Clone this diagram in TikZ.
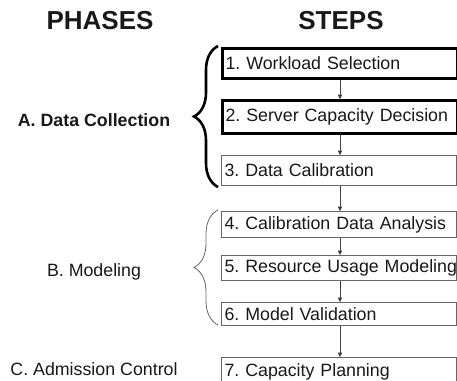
\documentclass[tikz,border=0pt]{standalone}
\usepackage{fontspec}
\setmainfont{Liberation Sans}
\usetikzlibrary{arrows.meta,decorations.pathreplacing}
\begin{document}
\frenchspacing
\begin{tikzpicture}[x=1pt,y=-1pt,
  every node/.style={font=\fontsize{17.8}{20}\selectfont, text=black!90},
  stepbox/.style={draw=black!60, line width=1pt, anchor=north west,
    minimum width=235pt, text width=229pt, align=left, inner xsep=3pt, inner ysep=0pt},
  keybox/.style={stepbox, draw=black, line width=3pt},
  flow/.style={draw=black!75, line width=0.8pt, -{Triangle[length=4.5pt,width=4.5pt]}},
  header/.style={font=\fontsize{26}{30}\selectfont\bfseries},
  bigbrace/.style={decorate, decoration={brace, amplitude=24pt}, line width=2.6pt, draw=black},
  smallbrace/.style={decorate, decoration={brace, amplitude=24pt}, line width=0.8pt, draw=black!60}]
\useasboundingbox[fill=white] (0,0) rectangle (457,380);

\node[header] (ph) at (100,21) {PHASES};
\node[header] (st) at (341,21) {STEPS};

\node[keybox, minimum height=30pt] (b1) at (221,47) {\mbox{1. Workload Selection}};
\node[keybox, minimum height=33pt] (b2) at (221,99) {\mbox{2. Server Capacity Decision}};
\node[stepbox, minimum height=30pt] (b3) at (221,155) {\mbox{3. Data Calibration}};
\node[stepbox, minimum height=26pt] (b4) at (221,211) {\mbox{4. Calibration Data Analysis}};
\node[stepbox, minimum height=25pt] (b5) at (221,255) {\mbox{5. Resource Usage Modeling}};
\node[stepbox, minimum height=23pt] (b6) at (221,302) {\mbox{6. Model Validation}};
\node[stepbox, minimum height=28pt] (b7) at (221,357) {\mbox{7. Capacity Planning}};

\foreach \a/\b in {b1/b2,b2/b3,b3/b4,b4/b5,b5/b6,b6/b7}
  \draw[flow] (\a.south -| 340,0) -- (\b.north -| 340,0);

\node[font=\fontsize{17.8}{20}\selectfont\bfseries] (pa) at (94,120) {A. Data Collection};
\node (pb) at (94,272) {B. Modeling};
\node (pc) at (94,369) {C. Admission Control};

\coordinate (abot) at (218,187);
\coordinate (atop) at (218,46);
\draw[bigbrace] (abot) -- (atop);
\coordinate (bbot) at (218,325);
\coordinate (btop) at (218,210);
\draw[smallbrace] (bbot) -- (btop);
\end{tikzpicture}
\end{document}
